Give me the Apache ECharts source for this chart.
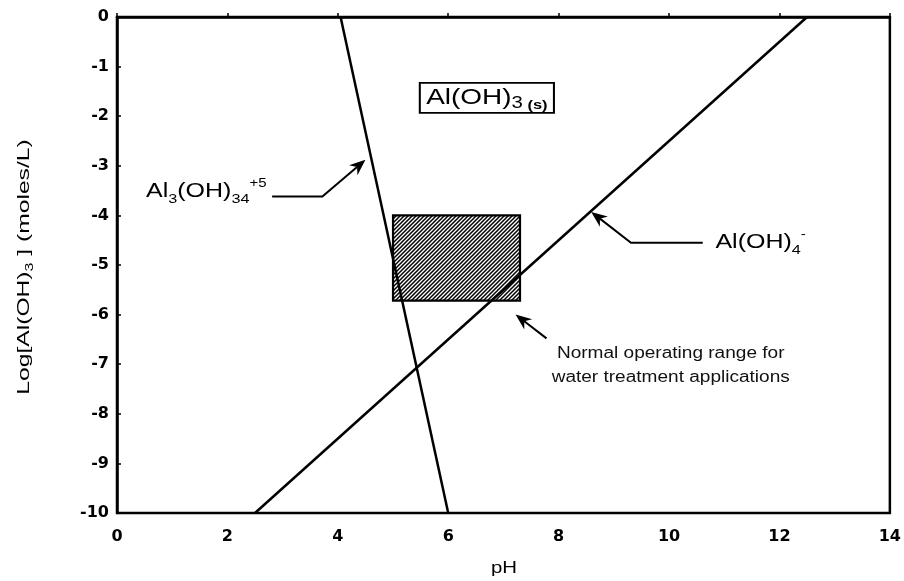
<!DOCTYPE html>
<html><head><meta charset="utf-8">
<script src="https://cdn.jsdelivr.net/npm/echarts@6/dist/echarts.min.js"></script>
<style>html,body{margin:0;padding:0;background:#fff}#c{width:904px;height:581px}</style>
</head><body><div id="c"></div>
<script>
// ---- data ----
const xTickValues = [0, 2, 4, 6, 8, 10, 12, 14];
const yTickValues = [0, -1, -2, -3, -4, -5, -6, -7, -8, -9, -10];
const polymerLine = [[4.05, 0], [6.0, -10]];          // Al3(OH)34+5 boundary
const aluminateLine = [[2.5, -10], [12.5, 0]];        // Al(OH)4- boundary
const rangePH = [5.0, 7.3];                            // normal operating range, pH
const rangeLogC = [-5.72, -4.0];                       // normal operating range, log C
const leaderPolymer = [[2.81, -3.62], [3.72, -3.62], [4.5, -2.88]];
const leaderAluminate = [[10.61, -4.55], [9.31, -4.55], [8.59, -3.93]];
const leaderRange = [[7.78, -6.48], [7.22, -6.0]];
const labelPolymerAt = [2.71, -3.52];
const labelAluminateAt = [10.84, -4.55];
const labelSolidAt = [6.7, -1.63];
const labelRangeAt = [10.03, -7.02];
const labelRangeLines = ['Normal operating range for', 'water treatment applications'];

const FONT = '"Liberation Sans", Arial, sans-serif';
const leaders = [leaderPolymer, leaderAluminate, leaderRange];

function makeHatch() {
  const c = document.createElement('canvas'); c.width = 4; c.height = 4;
  const g = c.getContext('2d');
  g.fillStyle = '#fff'; g.fillRect(0, 0, 4, 4);
  g.strokeStyle = '#000'; g.lineWidth = 1.5;
  g.beginPath();
  g.moveTo(-1, 5); g.lineTo(5, -1);
  g.moveTo(-1, 1); g.lineTo(1, -1);
  g.moveTo(3, 5); g.lineTo(5, 3);
  g.stroke();
  return c;
}
const hatch = { image: makeHatch(), repeat: 'repeat' };

function arrow(pts) {
  const n = pts.length;
  const tip = pts[n - 1], prev = pts[n - 2];
  let dx = tip[0] - prev[0], dy = tip[1] - prev[1];
  const len = Math.hypot(dx, dy); dx /= len; dy /= len;
  const nx = -dy, ny = dx;
  const L = 16, W = 6.5, notch = 5;
  const bx = tip[0] - dx * L, by = tip[1] - dy * L;
  const mid = [tip[0] - dx * (L - notch), tip[1] - dy * (L - notch)];
  return {
    type: 'group', children: [
      { type: 'polyline', shape: { points: pts.slice(0, n - 1).concat([mid]) }, style: { stroke: '#000', lineWidth: 2, fill: null } },
      { type: 'polygon', shape: { points: [tip, [bx + nx * W, by + ny * W], mid, [bx - nx * W, by - ny * W]] }, style: { fill: '#000' } }
    ]
  };
}

const rich = {
  n: { fontSize: 20, lineHeight: 28, verticalAlign: 'middle', fontFamily: FONT, fill: '#000' },
  N: { fontSize: 22, lineHeight: 28, verticalAlign: 'middle', fontFamily: FONT, fill: '#000' },
  s: { fontSize: 13, lineHeight: 13, verticalAlign: 'bottom', fontFamily: FONT, fill: '#000' },
  S: { fontSize: 16, lineHeight: 16, verticalAlign: 'bottom', fontFamily: FONT, fill: '#000' },
  T: { fontSize: 13, lineHeight: 13, verticalAlign: 'bottom', fontFamily: FONT, fill: '#000', fontWeight: 'bold' },
  p: { fontSize: 12, lineHeight: 12, verticalAlign: 'top', fontFamily: FONT, fill: '#000' }
};

const labels = [labelPolymerAt, labelAluminateAt, labelSolidAt, labelRangeAt];

function renderLabel(params, api) {
  const i = params.dataIndex;
  const p = api.coord(labels[i]);
  if (i === 0) {
    return { type: 'text', x: p[0], y: p[1], scaleX: 1.25, style: { text: '{n|Al}{s|3}{n|(OH)}{s|34}{p|+5}', rich, align: 'right', verticalAlign: 'middle' } };
  }
  if (i === 1) {
    return { type: 'text', x: p[0], y: p[1], scaleX: 1.25, style: { text: '{n|Al(OH)}{s|4}{p|-}', rich, align: 'left', verticalAlign: 'middle' } };
  }
  if (i === 2) {
    return { type: 'text', x: p[0], y: p[1], scaleX: 1.27, style: { text: '{N|Al(OH)}{S|3}{T| (s)}', rich, align: 'center', verticalAlign: 'middle', padding: [1, 5, 1, 5], borderColor: '#000', borderWidth: 1.6 } };
  }
  return { type: 'text', x: p[0], y: p[1], scaleX: 1.19, style: { text: labelRangeLines.join('\n'), font: '16px ' + FONT, lineHeight: 24, fill: '#111', align: 'center', verticalAlign: 'middle' } };
}

const chart = echarts.init(document.getElementById('c'), null, { renderer: 'canvas' });
chart.setOption({
  animation: false,
  backgroundColor: '#fff',
  grid: { left: 117, right: 11, top: 17, bottom: 68, show: true, borderColor: '#000', borderWidth: 2.5 },
  xAxis: {
    type: 'value', min: 0, max: 14, interval: 2,
    axisLine: { show: true, lineStyle: { color: '#000', width: 2.5 } },
    axisTick: { show: true, inside: true, length: 4, lineStyle: { color: '#000', width: 1.5 } },
    splitLine: { show: false },
    axisLabel: { color: '#000', fontFamily: '"DejaVu Sans", sans-serif', fontWeight: 'bold', fontSize: 16, margin: 16,
      formatter: v => xTickValues.includes(v) ? String(v) : '' }
  },
  yAxis: {
    type: 'value', min: -10, max: 0, interval: 1,
    axisLine: { show: true, lineStyle: { color: '#000', width: 2.5 } },
    axisTick: { show: true, inside: true, length: 4, lineStyle: { color: '#000', width: 1.5 } },
    splitLine: { show: false },
    axisLabel: { color: '#000', fontFamily: '"DejaVu Sans", sans-serif', fontWeight: 'bold', fontSize: 16, margin: 8,
      formatter: v => yTickValues.includes(v) ? String(v) : '' }
  },
  graphic: [
    { type: 'text', left: 491, top: 560, style: { text: 'pH', font: '17px ' + FONT, fill: '#000' }, scaleX: 1.2 },
    { type: 'text', x: 24, y: 267, rotation: Math.PI / 2, scaleX: 1.45,
      style: { text: '{a|Log[Al(OH)}{b|3}{a| ] (moles/L)}', align: 'center', verticalAlign: 'middle',
        rich: { a: { fontSize: 17, lineHeight: 22, verticalAlign: 'middle', fontFamily: FONT, fill: '#000' },
                b: { fontSize: 11, lineHeight: 11, verticalAlign: 'bottom', fontFamily: FONT, fill: '#000' } } } }
  ],
  series: [
    { type: 'custom', name: 'range', z: 3,
      data: [[rangePH[0], rangeLogC[0], rangePH[1], rangeLogC[1]]],
      encode: { x: [0, 2], y: [1, 3] },
      renderItem: (params, api) => {
        const a = api.coord([api.value(0), api.value(3)]);
        const b = api.coord([api.value(2), api.value(1)]);
        return { type: 'rect', shape: { x: a[0], y: a[1], width: b[0] - a[0], height: b[1] - a[1] },
          style: { fill: hatch, stroke: '#000', lineWidth: 2.2 } };
      } },
    { type: 'line', name: 'Al3(OH)34+5', data: polymerLine, symbol: 'none', z: 4,
      lineStyle: { color: '#000', width: 2.5 } },
    { type: 'line', name: 'Al(OH)4-', data: aluminateLine, symbol: 'none', z: 4,
      lineStyle: { color: '#000', width: 2.5 } },
    { type: 'custom', name: 'leaders', z: 5,
      data: leaders.map(l => l[l.length - 1]),
      renderItem: (params, api) => arrow(leaders[params.dataIndex].map(q => api.coord(q))) },
    { type: 'custom', name: 'labels', z: 6,
      data: labels,
      renderItem: renderLabel }
  ]
});
</script></body></html>
